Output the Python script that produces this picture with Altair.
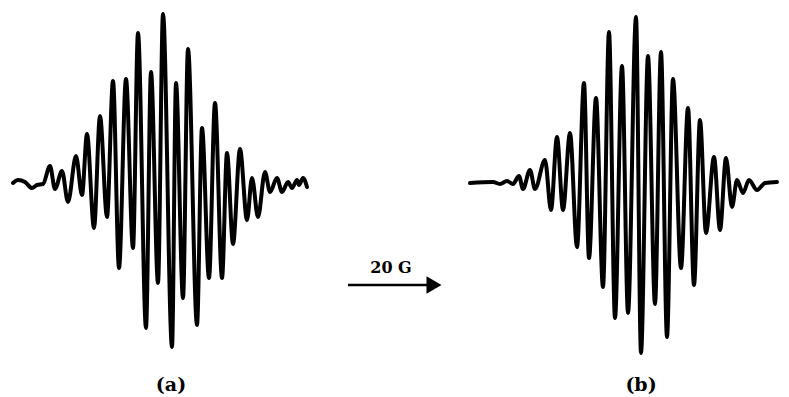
import altair as alt
import pandas as pd

# Spectrum (a): field position (px units) and signal amplitude
a_x = [13, 18, 25, 32, 37, 43, 50, 55, 62, 68, 76, 82, 87, 94, 100, 107, 113, 119, 126, 133,
       138, 146, 151, 158, 163, 172, 176, 183, 188, 197, 202, 209, 215, 222, 227, 233, 240, 247,
       252, 258, 265, 270, 277, 282, 288, 292, 297, 299, 303, 307]
a_amp = [0, 3, 1, -5, -2, -1, 17, -6, 12, -19, 27, -12, 49, -45, 67, -34, 102, -85, 104, -65,
         150, -145, 111, -100, 169, -164, 100, -115, 134, -142, 55, -95, 80, -95, 30, -61, 34, -37,
         5, -34, 11, -9, 5, -9, 1, -5, 3, -2, 5, -4]

# Spectrum (b)
b_x = [470, 493, 500, 507, 513, 519, 523, 530, 535, 545, 551, 557, 563, 570, 577, 584, 589, 596,
       603, 609, 615, 622, 628, 636, 641, 648, 655, 661, 667, 673, 681, 688, 694, 700, 706, 714,
       720, 726, 732, 737, 743, 749, 757, 765, 777]
b_amp = [0, 1, -1, 2, -1, 7, -6, 13, -6, 23, -27, 46, -27, 50, -64, 100, -75, 85,
         -104, 151, -135, 117, -130, 166, -170, 127, -121, 131, -154, 104, -85, 75, -102, 63, -50, 26,
         -47, 25, -24, 3, -10, 3, -7, 0, 1]

labels = ["(a)", "(b)"]
label_x = [171, 641]
label_amp = [-202, -202]

arrow_text = ["20 G"]
arrow_start = [348]
arrow_end = [431]
arrow_tip = [434]
arrow_amp = [-102]
arrow_text_x = [391]
arrow_text_amp = [-85]

df_a = pd.DataFrame({"x": a_x, "amp": a_amp, "spec": "a"})
df_b = pd.DataFrame({"x": b_x, "amp": b_amp, "spec": "b"})
df_lines = pd.concat([df_a, df_b], ignore_index=True)

xs = alt.Scale(domain=[8, 781], nice=False, zero=False)
ys = alt.Scale(domain=[-214, 175], nice=False, zero=False)

lines = alt.Chart(df_lines).mark_line(
    color="black", strokeWidth=4, interpolate="monotone", strokeJoin="round", strokeCap="round"
).encode(
    x=alt.X("x:Q", scale=xs, axis=None),
    y=alt.Y("amp:Q", scale=ys, axis=None),
    detail="spec:N",
)

df_lab = pd.DataFrame({"x": label_x, "amp": label_amp, "t": labels})
lab = alt.Chart(df_lab).mark_text(
    font="DejaVu Serif", fontWeight="bold", fontSize=19, color="black", baseline="middle"
).encode(x=alt.X("x:Q", scale=xs), y=alt.Y("amp:Q", scale=ys), text="t:N")

df_arrow = pd.DataFrame({"x": arrow_start, "x2": arrow_end, "amp": arrow_amp,
                         "tip": arrow_tip, "tx": arrow_text_x, "tamp": arrow_text_amp,
                         "t": arrow_text})
shaft = alt.Chart(df_arrow).mark_rule(color="black", strokeWidth=2.6).encode(
    x=alt.X("x:Q", scale=xs), x2="x2:Q", y=alt.Y("amp:Q", scale=ys))
head = alt.Chart(df_arrow).mark_point(
    shape="triangle-right", filled=True, color="black", opacity=1, size=300
).encode(x=alt.X("tip:Q", scale=xs), y=alt.Y("amp:Q", scale=ys))
atext = alt.Chart(df_arrow).mark_text(
    font="DejaVu Serif", fontWeight="bold", fontSize=16, color="black", baseline="middle"
).encode(x=alt.X("tx:Q", scale=xs), y=alt.Y("tamp:Q", scale=ys), text="t:N")

chart = alt.layer(lines, lab, shaft, head, atext).properties(
    width=773, height=389, padding=0, autosize=alt.AutoSizeParams(type="none"),
    background="white",
).configure_view(stroke=None)

chart.save("out.html", embed_options={"renderer": "svg", "actions": False})
